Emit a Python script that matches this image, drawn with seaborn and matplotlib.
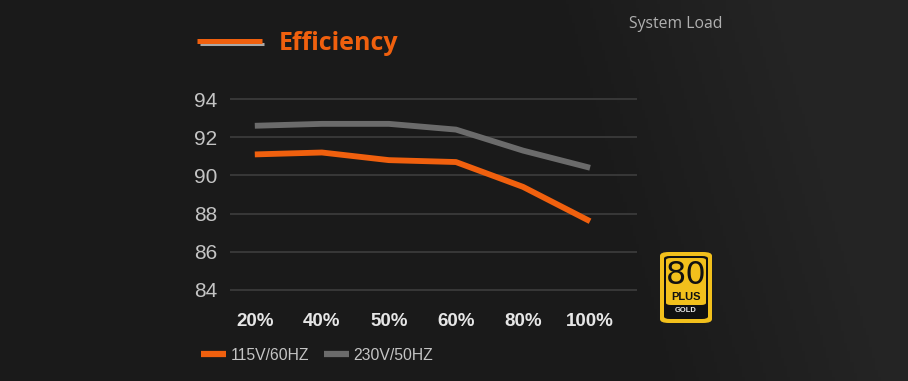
import numpy as np
import pandas as pd
import matplotlib
matplotlib.use("Agg")
import matplotlib.pyplot as plt
import matplotlib.transforms as mtransforms
import seaborn as sns
from matplotlib.patches import FancyBboxPatch

# data
loads = ["20%", "40%", "50%", "60%", "80%", "100%"]
eff_115 = [91.1, 91.2, 90.8, 90.7, 89.4, 87.6]
eff_230 = [92.6, 92.7, 92.7, 92.4, 91.3, 90.4]
series_names = ["115V/60HZ", "230V/50HZ"]
y_ticks = [84, 86, 88, 90, 92, 94]

orange = "#f0600e"
grey = "#6b6b6b"
yellow = "#f2c01c"
bg = "#1b1b1b"

df = pd.DataFrame({
    "load": loads * 2,
    "pos": list(range(len(loads))) * 2,
    "eff": eff_115 + eff_230,
    "series": [series_names[0]] * len(loads) + [series_names[1]] * len(loads),
})

sns.set_style("dark")
plt.rcParams['font.family'] = ['Liberation Sans', 'DejaVu Sans']

W, H = 908, 381
fig = plt.figure(figsize=(W / 100, H / 100), dpi=100)
fig.patch.set_facecolor(bg)

# background, slightly lighter towards the right edge
bgax = fig.add_axes([0, 0, 1, 1], zorder=-10)
xx = np.linspace(0, 1, 300)
yy = np.linspace(0, 1, 100)
X, Y = np.meshgrid(xx, yy)
grad = np.clip((X - 0.72 + 0.12 * Y) / 0.25, 0, 1)
base = np.array([0x1a, 0x1a, 0x1a]) / 255
light = np.array([0x24, 0x24, 0x24]) / 255
img = base + grad[..., None] * (light - base)
bgax.imshow(img, aspect="auto", extent=[0, 1, 0, 1], origin="lower")
bgax.set_axis_off()

ax = fig.add_axes([230 / W, 1 - 299.5 / H, (637 - 230) / W, (299.5 - 89.5) / H])
ax.set_facecolor("none")
sns.lineplot(data=df, x="pos", y="eff", hue="series",
             palette={series_names[0]: orange, series_names[1]: grey},
             linewidth=4.2, legend=False, ax=ax, solid_joinstyle="round",
             solid_capstyle="butt")

ax.set_xlim(-0.37, 5.7)
ax.set_ylim(83.5, 94.5)
ax.set_yticks(y_ticks)
ax.set_yticklabels([str(t) for t in y_ticks], color="#c4c4c4", fontsize=15)
# labels sit a little above their grid line
shift = mtransforms.ScaledTranslation(0, 3 / 100, fig.dpi_scale_trans)
for lbl in ax.get_yticklabels():
    lbl.set_transform(lbl.get_transform() + shift)
ax.set_xticks(range(len(loads)))
ax.set_xticklabels(loads, color="#e6e6e6", fontsize=13.5, fontweight="bold")
ax.tick_params(axis="y", length=0, pad=9)
ax.tick_params(axis="x", length=0, pad=10)
ax.grid(axis="y", color="#383838", linewidth=1.4)
ax.grid(axis="x", visible=False)
ax.set_xlabel("")
ax.set_ylabel("")
for s in ax.spines.values():
    s.set_visible(False)

# title with decorative line
fig.add_artist(plt.Line2D([200 / W, 264 / W], [1 - 44 / H, 1 - 44 / H],
                          color="#a8a8a8", linewidth=2.2, solid_capstyle="butt"))
fig.add_artist(plt.Line2D([197 / W, 262 / W], [1 - 40.5 / H, 1 - 40.5 / H],
                          color=orange, linewidth=3.6, solid_capstyle="butt"))
fig.text(279 / W, 1 - 44 / H, "Efficiency", color=orange, fontsize=18,
         fontweight="bold", va="center", ha="left", family="Open Sans")
fig.text(629 / W, 1 - 23.5 / H, "System Load", color="#b0b0b0", fontsize=11.3,
         va="center", ha="left", family="Open Sans")

# legend
handles = [plt.Line2D([], [], color=orange, linewidth=4.5, solid_capstyle="butt"),
           plt.Line2D([], [], color=grey, linewidth=4.5, solid_capstyle="butt")]
fig.legend(handles, series_names, loc="center left",
           bbox_to_anchor=(187 / W, 1 - 355 / H), ncol=2, frameon=False,
           fontsize=11.3, labelcolor="#c4c4c4", handlelength=1.6,
           handletextpad=0.3, columnspacing=0.9)

# 80 PLUS gold badge
def rbox(x, y, w, h, r, color):
    fig.patches.append(FancyBboxPatch((x / W, 1 - (y + h) / H), w / W, h / H,
                                      boxstyle="round,pad=0,rounding_size=%f" % (r / W),
                                      transform=fig.transFigure, facecolor=color,
                                      edgecolor="none"))

bx0, by0, bw, bh = 660, 252, 52, 71
rbox(bx0, by0, bw, bh, 9, yellow)
rbox(bx0 + 4, by0 + 4, bw - 8, bh - 8, 6, "#111111")
rbox(bx0 + 6, by0 + 6, bw - 12, bh - 24, 5, yellow)
fig.text((bx0 + bw / 2) / W, 1 - (by0 + 24) / H, "80", color="#111111",
         fontsize=23, ha="center", va="center", family="Liberation Sans Narrow")
fig.text((bx0 + bw / 2) / W, 1 - (by0 + 45) / H, "PLUS", color="#111111",
         fontsize=8, fontweight="bold", ha="center", va="center")
fig.text((bx0 + bw / 2) / W, 1 - (by0 + 58.5) / H, "GOLD", color="#e8e8e8",
         fontsize=5.5, fontweight="bold", ha="center", va="center")

fig.savefig("out.png", dpi=100, facecolor=bg)
